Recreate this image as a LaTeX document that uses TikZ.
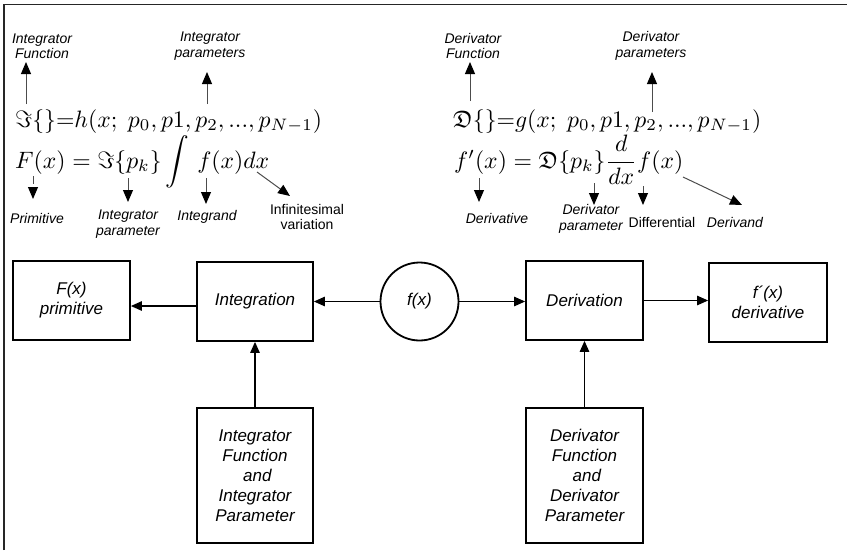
\documentclass[tikz,border=0pt]{standalone}
\usepackage{amsmath,amssymb}
\usepackage{graphicx}
\usepackage{fontspec}
\newfontfamily\arialf{Liberation Sans}
\usetikzlibrary{arrows.meta}
\newcommand\boxfont{\arialf\itshape\fontsize{17}{20}\selectfont}
\newcommand\labfont{\arialf\itshape\fontsize{14}{15.5}\selectfont}
\newcommand\labufont{\arialf\fontsize{14}{15.5}\selectfont}
\newcommand\bigeq[1]{\scalebox{2.37}{#1}}
\begin{document}
\begin{tikzpicture}[x=1pt,y=-1pt,
  box/.style={draw, line width=1.8pt, inner sep=0pt, align=center, font=\boxfont},
  lab/.style={align=center, font=\labfont, inner sep=0pt},
  labu/.style={align=center, font=\labufont, inner sep=0pt},
  eq/.style={anchor=base west, inner sep=0pt},
  conn/.style={line width=1.2pt, -{Triangle[length=11pt,width=9.5pt]}},
  ann/.style={line width=1pt, black!70, -{Triangle[length=12pt,width=10pt,color=black]}},
  frame/.style={line width=1.6pt, black!85}]
\useasboundingbox (0,0) rectangle (847,550);
% frame (top and left edges)
\coordinate (fr1) at (4,550);
\coordinate (fr2) at (4,4.5);
\coordinate (fr3) at (847,4.5);
\draw[frame] (fr1) -- (fr2) -- (fr3);

% equations
\node[eq] (eqIa) at (15,127) {\bigeq{$\Im\{\}{=}h(x;\; p_0,p1,p_2,...,p_{N-1})$}};
\node[eq] (eqIb) at (15,168) {\bigeq{$F(x) = \Im\{p_k\}\displaystyle\int\, f(x)dx$}};
\node[eq] (eqDa) at (453,127) {\bigeq{$\mathfrak{D}\{\}{=}g(x;\; p_0,p1,p_2,...,p_{N-1})$}};
\node[eq] (eqDb) at (454,168) {\bigeq{$f'(x) = \mathfrak{D}\{p_k\}\dfrac{d}{dx}f(x)$}};

% labels
\node[lab] (lIF) at (42,46) {Integrator\\Function};
\node[lab] (lIP) at (210,46) {Integrator\\parameters};
\node[lab] (lDF) at (473,46) {Derivator\\Function};
\node[lab] (lDP) at (651,46) {Derivator\\parameters};
\node[lab] (lPrim) at (37,218) {Primitive};
\node[lab] (lIpar) at (128,224) {Integrator\\parameter};
\node[lab] (lIntd) at (207,217) {Integrand};
\node[labu] (lInf) at (307,217) {Infinitesimal\\variation};
\node[lab] (lDer) at (497,218) {Derivative};
\node[lab] (lDpar) at (591,219) {Derivator\\parameter};
\node[labu] (lDiff) at (662,222) {Differential};
\node[lab] (lDand) at (735,222) {Derivand};

% annotation arrow end points
\coordinate (aIFs) at (26,104);  \coordinate (aIFe) at (26,62);
\coordinate (aIPs) at (207,104); \coordinate (aIPe) at (207,72);
\coordinate (aDFs) at (470,101); \coordinate (aDFe) at (470,62);
\coordinate (aDPs) at (652,112); \coordinate (aDPe) at (652,72);
\coordinate (aPrs) at (33,176);  \coordinate (aPre) at (33,199);
\coordinate (aIps) at (128,178); \coordinate (aIpe) at (128,202);
\coordinate (aIds) at (206,178); \coordinate (aIde) at (206,204);
\coordinate (aIns) at (257,172); \coordinate (aIne) at (290,196);
\coordinate (aDvs) at (479,178); \coordinate (aDve) at (479,202);
\coordinate (aDps) at (594,183); \coordinate (aDpe) at (594,205);
\coordinate (aDfs) at (643,186); \coordinate (aDfe) at (643,205);
\coordinate (aDds) at (683,177); \coordinate (aDde) at (742,205);

\draw[ann] (aIFs) -- (aIFe);
\draw[ann] (aIPs) -- (aIPe);
\draw[ann] (aDFs) -- (aDFe);
\draw[ann] (aDPs) -- (aDPe);
\draw[ann, dash pattern=on 8pt off 4pt] (aPrs) -- (aPre);
\draw[ann] (aIps) -- (aIpe);
\draw[ann] (aIds) -- (aIde);
\draw[ann] (aIns) -- (aIne);
\draw[ann] (aDvs) -- (aDve);
\draw[ann] (aDps) -- (aDpe);
\draw[ann] (aDfs) -- (aDfe);
\draw[ann] (aDds) -- (aDde);

% block diagram
\node[box, minimum width=117pt, minimum height=79pt] (Fb) at (71.5,300.5) {F(x)\\primitive};
\node[box, minimum width=116pt, minimum height=79pt] (Int) at (255,301.5) {Integration};
\node[draw, circle, line width=1.8pt, minimum size=78pt, inner sep=0pt, font=\boxfont] (fx) at (419.5,301.5) {f(x)};
\node[box, minimum width=117pt, minimum height=79pt] (Der) at (584.5,300.5) {Derivation};
\node[box, minimum width=118pt, minimum height=79pt] (Fp) at (768,302.5) {f´(x)\\derivative};
\node[box, minimum width=116pt, minimum height=135pt] (IP) at (255,475.5) {Integrator\\Function\\\ and\\Integrator\\Parameter};
\node[box, minimum width=117pt, minimum height=135pt] (DP) at (584.5,475.5) {Derivator\\Function\\\ and\\Derivator\\Parameter};

\draw[conn] ([yshift=-4.5pt]Int.west) -- ([yshift=-5.5pt]Fb.east);
\draw[conn] (fx.west) -- (Int.east);
\draw[conn] (fx.east) -- (Der.west |- fx.east);
\draw[conn] (Der.east) -- (Fp.west |- Der.east);
\draw[conn] (IP.north) -- (Int.south);
\draw[conn] (DP.north) -- (Der.south);
\end{tikzpicture}
\end{document}
